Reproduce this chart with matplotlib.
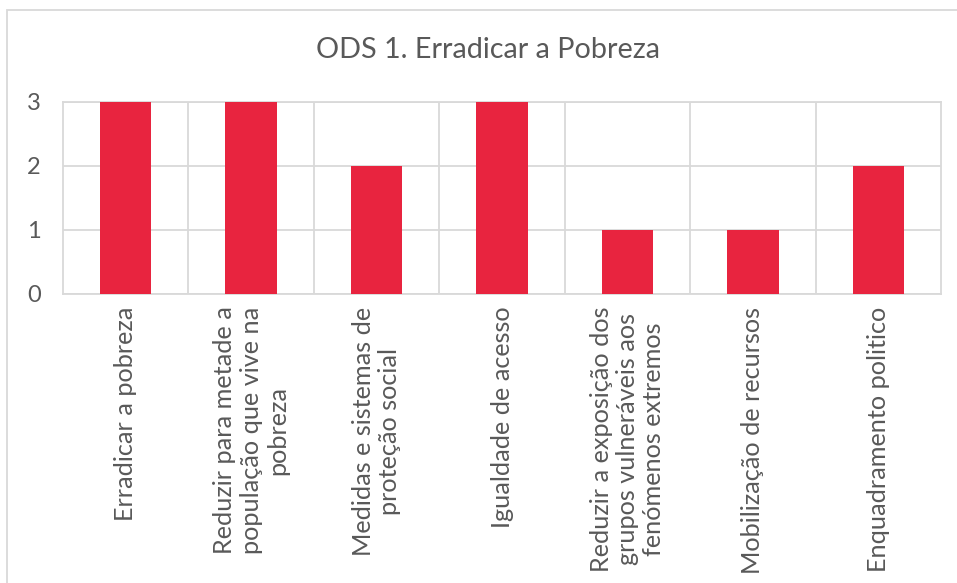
import matplotlib.pyplot as plt
from matplotlib.patches import Rectangle

# data
categories = [
    "Erradicar a pobreza",
    "Reduzir para metade a\npopulação que vive na\npobreza",
    "Medidas e sistemas de\nproteção social",
    "Igualdade de acesso",
    "Reduzir a exposição dos\ngrupos vulneráveis aos\nfenómenos extremos",
    "Mobilização de recursos",
    "Enquadramento politico",
]
values = [3, 3, 2, 3, 1, 1, 2]
yticks = [0, 1, 2, 3]
title = "ODS 1. Erradicar a Pobreza"

plt.rcParams['font.family'] = ['Lato', 'DejaVu Sans']
text_color = '#595959'
grid_color = '#D9D9D9'

W, H = 957, 583
fig = plt.figure(figsize=(W / 100, H / 100), dpi=100)
ax = fig.add_axes([63 / W, 1 - 294 / H, (941 - 63) / W, (294 - 102) / H])

x = range(len(categories))
ax.bar(x, values, width=0.41, color='#E8243F', zorder=3)

ax.set_xlim(-0.5, len(categories) - 0.5)
ax.set_ylim(0, 3)
ax.set_yticks(yticks)
ax.set_yticklabels([str(t) for t in yticks], fontsize=17, color=text_color)

# vertical separators between categories
ax.set_xticks([i + 0.5 for i in range(len(categories) - 1)], minor=True)
ax.set_xticks(list(x))
ax.set_xticklabels(categories, rotation=90, ha='center', va='top',
                   multialignment='center', fontsize=18.2, color=text_color,
                   linespacing=1.17)
ax.grid(axis='y', color=grid_color, linewidth=1.3, zorder=0)
ax.grid(axis='x', which='minor', color=grid_color, linewidth=1.3, zorder=0)
ax.tick_params(axis='both', which='both', length=0)
ax.tick_params(axis='x', pad=9)
ax.tick_params(axis='y', pad=16)
for s in ax.spines.values():
    s.set_color(grid_color)
    s.set_linewidth(1.3)

fig.text(488 / W, 1 - 50 / H, title, ha='center', va='center', fontsize=20.7, color=text_color)

# chart border (right and bottom edges fall outside the image)
fig.patches.append(Rectangle((7 / W, -0.05), 1.0, 1 - 10 / H + 0.05,
                             transform=fig.transFigure, fill=False,
                             edgecolor=grid_color, linewidth=1.3))

fig.savefig('out.png', dpi=100)
